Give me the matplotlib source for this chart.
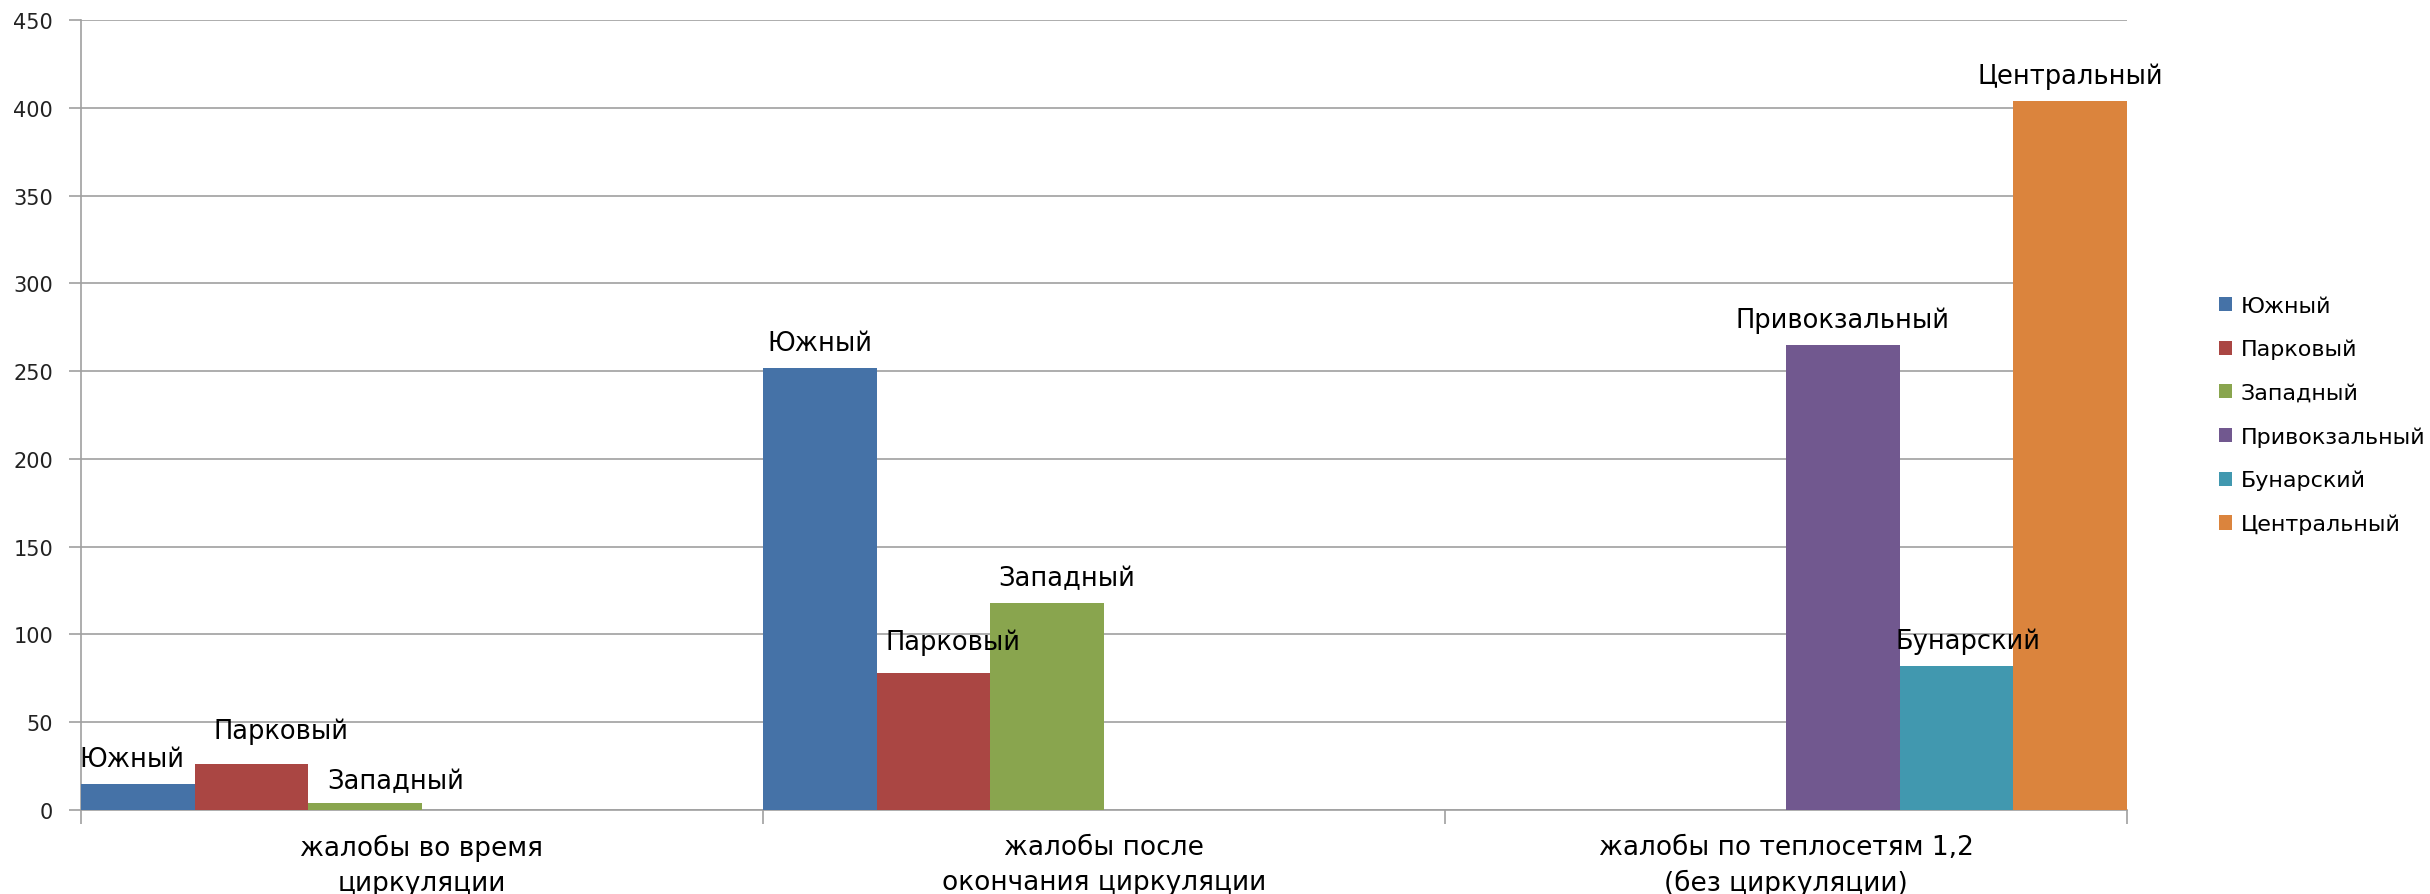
import numpy as np
import matplotlib
matplotlib.use("Agg")
import matplotlib.pyplot as plt

# Жалобы по районам
categories = ["жалобы во время\nциркуляции",
              "жалобы после\nокончания циркуляции",
              "жалобы по теплосетям 1,2\n(без циркуляции)"]
series = ["Южный", "Парковый", "Западный", "Привокзальный", "Бунарский", "Центральный"]
yuzhny = [15, 252, 0]
parkovy = [26, 78, 0]
zapadny = [4, 118, 0]
privokzalny = [0, 0, 265]
bunarsky = [0, 0, 82]
centralny = [0, 0, 404]
values = [yuzhny, parkovy, zapadny, privokzalny, bunarsky, centralny]
colors = ["#4572A7", "#AA4643", "#89A54E", "#71588F", "#4198AF", "#DB843D"]

# сдвиг подписей: (доля ширины столбца, пункты вверх)
label_shift = {(0, 0): (-0.05, 0), (0, 1): (0.26, 6), (0, 2): (0.27, -2),
               (1, 1): (0.17, 4), (1, 2): (0.17, 0), (2, 4): (0.1, 0)}

plt.rcParams['font.family'] = ['DejaVu Sans']

fig = plt.figure(figsize=(24.3, 8.95), dpi=100)
ax = fig.add_axes([0.0333, 0.0939, 0.842, 0.8826])

n = len(series)
w = 1.0 / n
x = np.arange(len(categories))
for j, (name, vals, c) in enumerate(zip(series, values, colors)):
    xs = x - 0.5 + (j + 0.5) * w
    ax.bar(xs, vals, width=w, color=c, label=name, zorder=3)
    for i, v in enumerate(vals):
        if v == 0:
            continue
        dx, dy = label_shift.get((i, j), (0, 0))
        ax.annotate(name, (xs[i] + dx * w, v), xytext=(0, 13 + dy), textcoords="offset points",
                    ha="center", va="baseline", fontsize=18.5, color="black", zorder=4)

ax.set_xlim(-0.5, 2.5)
ax.set_ylim(0, 450)
ax.set_yticks(np.arange(0, 451, 50))
ax.yaxis.grid(True, color="#a0a0a0", linewidth=1.2, zorder=0)
ax.set_axisbelow(True)

ax.set_xticks([-0.5, 0.5, 1.5, 2.5])
ax.set_xticklabels([])
ax.set_xticks(x, minor=True)
ax.set_xticklabels(categories, minor=True, fontsize=19, linespacing=1.45)
ax.tick_params(axis="x", which="minor", length=0, pad=17)
ax.tick_params(axis="x", which="major", length=10, color="#a0a0a0", width=1.2)
ax.tick_params(axis="y", length=9, color="#a0a0a0", width=1.2, labelsize=15, pad=11,
               labelcolor="#222222")

for s in ["top", "right"]:
    ax.spines[s].set_visible(False)
for s in ["left", "bottom"]:
    ax.spines[s].set_color("#a0a0a0")
    ax.spines[s].set_linewidth(1.2)

ax.legend(loc="center left", bbox_to_anchor=(1.035, 0.5), frameon=False, fontsize=16,
          handlelength=0.6, handleheight=0.6, handletextpad=0.4, labelspacing=1.05)

fig.savefig("out.png", dpi=100)
